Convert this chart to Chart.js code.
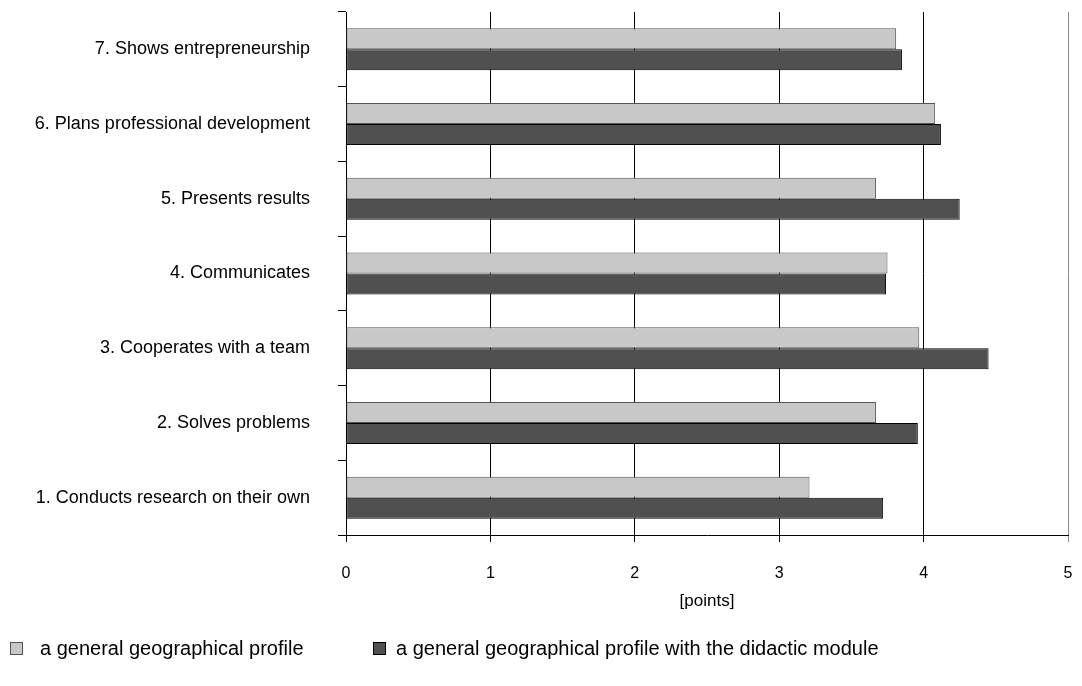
<!DOCTYPE html>
<html>
<head>
<meta charset="utf-8">
<script src="https://cdn.jsdelivr.net/npm/chart.js@4/dist/chart.umd.min.js"></script>
<style>
  html, body { margin: 0; padding: 0; background: #ffffff; }
  #wrap { width: 1082px; height: 686px; position: relative; }
</style>
</head>
<body>
<div id="wrap"><canvas id="chart" width="1082" height="686"></canvas></div>
<script>
// Competences (bottom to top on the chart)
const categories = [
  '1. Conducts research on their own',
  '2. Solves problems',
  '3. Cooperates with a team',
  '4. Communicates',
  '5. Presents results',
  '6. Plans professional development',
  '7. Shows entrepreneurship'
];

// Mean scores [points]
const generalProfile = [3.21, 3.67, 3.97, 3.75, 3.67, 4.08, 3.81];
const didacticModule = [3.72, 3.96, 4.45, 3.74, 4.25, 4.12, 3.85];

const seriesNames = [
  'a general geographical profile',
  'a general geographical profile with the didactic module'
];

const xTicks = [0, 1, 2, 3, 4, 5];
const axisTitle = '[points]';

const FONT = "'Liberation Sans', Arial, sans-serif";

// Keep the plot frame fixed: no extra room for half tick labels
function noScalePadding(scale) {
  scale.paddingTop = 0;
  scale.paddingBottom = 0;
  scale.paddingLeft = 0;
  scale.paddingRight = 0;
}

// Legend drawn below the axis: square swatch + label per series
const bottomLegend = {
  id: 'bottomLegend',
  afterDraw(chart) {
    const ctx = chart.ctx;
    const spots = [{ box: 10, text: 40 }, { box: 373, text: 396 }];
    const y = 648;
    ctx.save();
    ctx.font = '20px ' + FONT;
    ctx.textBaseline = 'middle';
    ctx.textAlign = 'left';
    chart.data.datasets.forEach((ds, i) => {
      const s = spots[i];
      ctx.fillStyle = ds.backgroundColor;
      ctx.fillRect(s.box, y - 6, 13, 13);
      ctx.strokeStyle = ds.borderColor;
      ctx.lineWidth = 1;
      ctx.strokeRect(s.box + 0.5, y - 5.5, 12, 12);
      ctx.fillStyle = '#000000';
      ctx.fillText(ds.label, s.text, y + 1);
    });
    ctx.restore();
  }
};

new Chart(document.getElementById('chart'), {
  type: 'bar',
  data: {
    labels: categories,
    datasets: [
      {
        label: seriesNames[0],
        data: generalProfile,
        backgroundColor: '#c8c8c8',
        borderColor: '#555555',
        borderWidth: 1,
        borderSkipped: false
      },
      {
        label: seriesNames[1],
        data: didacticModule,
        backgroundColor: '#505050',
        borderColor: '#000000',
        borderWidth: 1,
        borderSkipped: false
      }
    ]
  },
  plugins: [bottomLegend],
  options: {
    indexAxis: 'y',
    responsive: false,
    animation: false,
    devicePixelRatio: 1,
    layout: { padding: { top: 12, right: 14, left: 0, bottom: 0 } },
    datasets: {
      bar: { categoryPercentage: 0.562, barPercentage: 1.0 }
    },
    plugins: {
      legend: { display: false },
      tooltip: { enabled: false }
    },
    scales: {
      x: {
        type: 'linear',
        min: 0,
        max: 5,
        afterBuildTicks(scale) {
          scale.ticks = xTicks.map(v => ({ value: v }));
        },
        afterFit(scale) {
          scale.height = 151;
          noScalePadding(scale);
        },
        grid: {
          color: ctx => (ctx.tick && ctx.tick.value === 5 ? '#8a8a8a' : '#000000'),
          lineWidth: 1,
          tickLength: 7,
          drawTicks: true
        },
        border: { display: true, color: '#000000', width: 1 },
        ticks: {
          color: '#000000',
          font: { family: FONT, size: 16 },
          padding: 22,
          maxRotation: 0
        },
        title: {
          display: true,
          text: axisTitle,
          color: '#000000',
          font: { family: FONT, size: 17 },
          padding: { top: 0, bottom: 74 }
        }
      },
      y: {
        reverse: true,
        afterFit(scale) {
          scale.width = 346;
          noScalePadding(scale);
        },
        grid: {
          offset: true,
          drawOnChartArea: false,
          drawTicks: true,
          tickLength: 8,
          color: '#000000'
        },
        border: { display: true, color: '#000000', width: 1 },
        ticks: {
          color: '#000000',
          font: { family: FONT, size: 18 },
          padding: 28,
          autoSkip: false
        }
      }
    }
  }
});
</script>
</body>
</html>
